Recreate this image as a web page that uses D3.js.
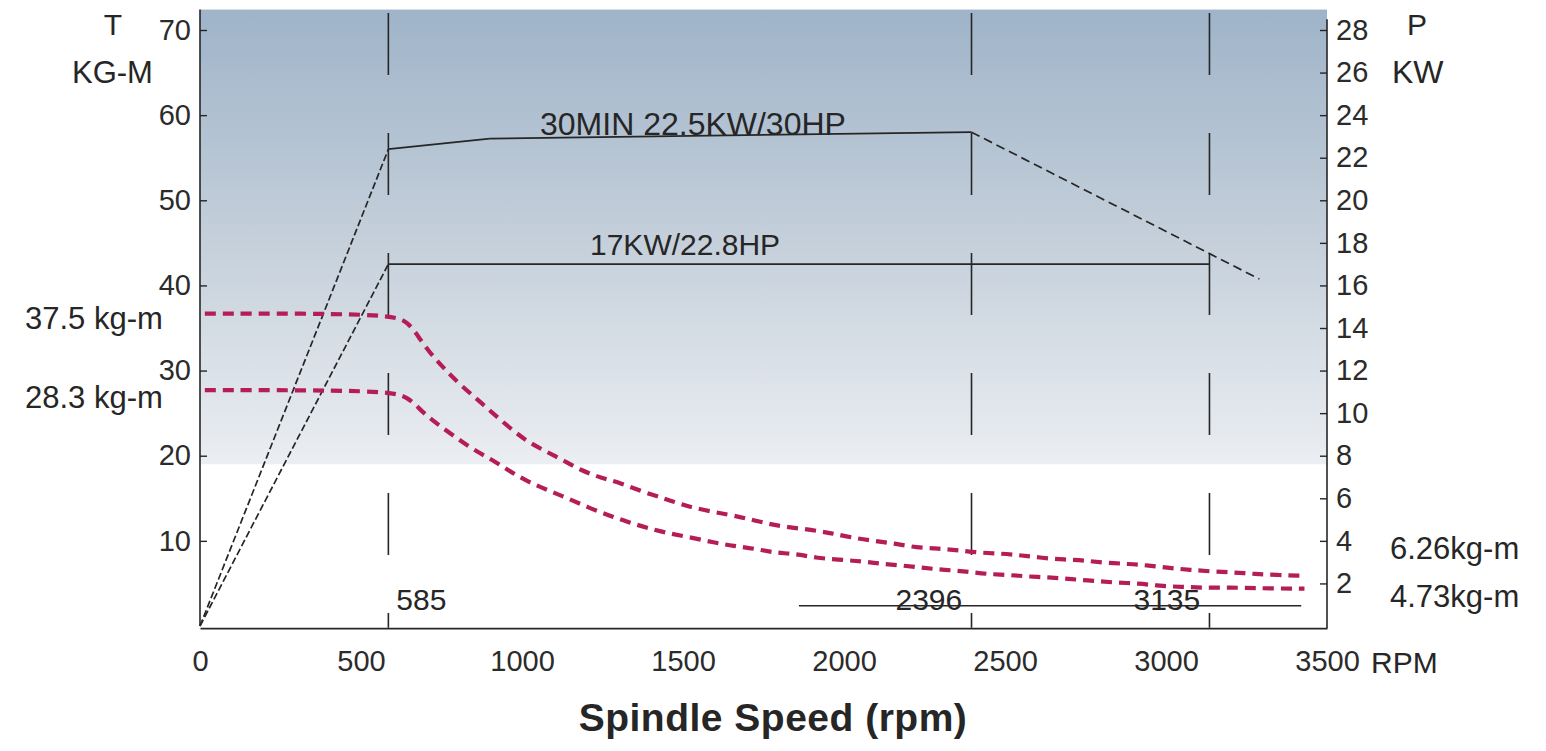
<!DOCTYPE html>
<html><head><meta charset="utf-8">
<script src="https://cdn.jsdelivr.net/npm/d3@7"></script>
<style>
html,body{margin:0;padding:0;background:#fff;}
svg{display:block;font-family:"Liberation Sans",Arial,sans-serif;}
</style></head>
<body>
<svg id="chart" width="1546" height="751"></svg>
<script>
// ---- data ----
const xTicks = [0,500,1000,1500,2000,2500,3000,3500];
const tTicks = [10,20,30,40,50,60,70];
const pTicks = [2,4,6,8,10,12,14,16,18,20,22,24,26,28];
const refRpm = [585,2396,3135];
const refLabels = ["585","2396","3135"];

// power curves (kW vs rpm)
const rpm30 = [0,585,900,2396,3290];
const kw30  = [0,22.4,22.9,23.2,16.3];
const rpm17 = [0,585,3135];
const kw17  = [0,17,17];

// torque curves (kg-m vs rpm)
const rpmTHigh = [15,585,647,684,725,762,809,862,909,958,1011,1064,1126,1182,1245,1307,1378,1441,1500,1565,1640,1702,1764,1826,1898,1960,2022,2091,2156,2225,2293,2355,2421,2489,2551,2614,2685,2747,2816,2884,2946,3012,3074,3142,3211,3276,3345,3420];
const tHigh    = [36.7,36.7,35.8,33.6,31.6,30.1,28.3,26.6,25.0,23.4,21.8,20.7,19.5,18.3,17.4,16.8,15.7,15.0,14.2,13.6,13.1,12.6,12.0,11.6,11.3,10.9,10.4,10.0,9.7,9.2,9.1,8.9,8.6,8.5,8.3,8.0,7.8,7.7,7.4,7.3,7.1,6.8,6.6,6.4,6.3,6.1,6.0,5.9];
const rpmTLow  = [15,582,647,691,741,793,849,909,965,1021,1083,1142,1207,1269,1329,1391,1453,1525,1596,1658,1721,1783,1845,1913,1982,2054,2116,2184,2250,2312,2380,2442,2511,2576,2645,2707,2775,2841,2915,2981,3049,3111,3180,3245,3320,3430];
const tLow     = [27.7,27.7,26.9,25.1,23.6,22.2,20.7,19.5,18.1,16.9,15.9,15.0,13.9,13.0,12.2,11.5,10.9,10.4,9.8,9.4,9.1,8.6,8.5,8.0,7.8,7.6,7.3,7.1,6.8,6.6,6.4,6.1,6.0,5.8,5.7,5.5,5.3,5.1,5.0,4.7,4.6,4.5,4.5,4.5,4.4,4.4];

// ---- chart ----
const svg = d3.select("#chart");
const x  = d3.scaleLinear().domain([0,3500]).range([200,1327]);
const yT = d3.scaleLinear().domain([0,70]).range([626,30]);
const yP = d3.scaleLinear().domain([0,28]).range([626,30]);
const ink = "#262626";

// gradient background
const defs = svg.append("defs");
const g = defs.append("linearGradient").attr("id","bg").attr("x1",0).attr("y1",0).attr("x2",0).attr("y2",1);
g.append("stop").attr("offset","0%").attr("stop-color","#9fb4c9");
g.append("stop").attr("offset","45%").attr("stop-color","#c0ccd8");
g.append("stop").attr("offset","100%").attr("stop-color","#ebeef2");
svg.append("rect").attr("x",x(0)).attr("y",yT(72.4)).attr("width",x(3500)-x(0))
  .attr("height",yT(19.0)-yT(72.4)).attr("fill","url(#bg)");

// vertical reference lines
svg.selectAll(".ref").data(refRpm).enter().append("line")
  .attr("x1",d=>x(d)).attr("x2",d=>x(d)).attr("y1",yT(72)).attr("y2",yT(-0.2))
  .attr("stroke",ink).attr("stroke-width",1.6).attr("stroke-dasharray","62 58");

// dimension line & labels
svg.append("line").attr("x1",x(1860)).attr("x2",x(3420)).attr("y1",yP(0.95)).attr("y2",yP(0.95))
  .attr("stroke",ink).attr("stroke-width",1.4);
svg.selectAll(".dim").data(refRpm).enter().append("text")
  .attr("x",(d,i)=>i===0? x(d)+8 : x(d)-76).attr("y",yP(0.75))
  .attr("font-size",30).attr("fill",ink).text((d,i)=>refLabels[i]);

// axes
const left = svg.append("g").attr("transform",`translate(${x(0)},0)`)
  .call(d3.axisLeft(yT).tickValues(tTicks).tickSize(-7).tickSizeOuter(0).tickPadding(9));
const right = svg.append("g").attr("transform",`translate(${x(3500)},0)`)
  .call(d3.axisRight(yP).tickValues(pTicks).tickSize(-7).tickSizeOuter(0).tickPadding(9));
const bottom = svg.append("g").attr("transform",`translate(0,${yP(-0.1)})`)
  .call(d3.axisBottom(x).tickValues(xTicks).tickFormat(d3.format("d")).tickSize(0).tickPadding(22));
[left,right,bottom].forEach(a=>{
  a.selectAll("path.domain").attr("stroke",ink).attr("stroke-width",1.6);
  a.selectAll(".tick line").attr("stroke",ink).attr("stroke-width",1.4);
  a.selectAll("text").attr("font-size",29).attr("fill","#2b2b2b")
    .attr("font-family","'Liberation Sans',Arial,sans-serif");
});
left.select("path.domain").attr("d",`M0,${yT(72.4)}V${yT(0)}`);
right.select("path.domain").attr("d",`M0,${yP(28.5)}V${yP(-0.1)}`);

// power lines, segment-wise styles
function drawSegments(rpms, kws, styles){
  for(let i=0;i<rpms.length-1;i++){
    svg.append("line")
      .attr("x1",x(rpms[i])).attr("y1",yP(kws[i]))
      .attr("x2",x(rpms[i+1])).attr("y2",yP(kws[i+1]))
      .attr("stroke",ink).attr("stroke-width",1.7)
      .attr("stroke-dasharray",styles[i]);
  }
}
drawSegments(rpm30,kw30,["7 3","none","none","9 5"]);
drawSegments(rpm17,kw17,["7 3","none"]);

// torque curves
const lineT = d3.line().x(d=>x(d[0])).y(d=>yT(d[1])).curve(d3.curveBasis);
[[rpmTHigh,tHigh],[rpmTLow,tLow]].forEach(([r,t])=>{
  svg.append("path").datum(r.map((v,i)=>[v,t[i]])).attr("d",lineT)
    .attr("fill","none").attr("stroke","#b51d56").attr("stroke-width",4.2)
    .attr("stroke-dasharray","11 7");
});

// texts
const txt = (s,xx,yy,size,anchor,extra)=>{
  const t = svg.append("text").attr("x",xx).attr("y",yy).attr("font-size",size)
    .attr("fill",ink).attr("text-anchor",anchor||"start").text(s);
  if(extra) extra(t);
  return t;
};
txt("T",113,35,30,"middle");
txt("KG-M",72,83,31);
txt("P",1417,35,30,"middle");
txt("KW",1392,83,32);
txt("30MIN 22.5KW/30HP",540,135,32);
txt("17KW/22.8HP",590,255,30);
txt("37.5 kg-m",25,329,31);
txt("28.3 kg-m",25,408,31);
txt("6.26kg-m",1390,559,31);
txt("4.73kg-m",1390,607,31);
txt("RPM",1371,673,30);
txt("Spindle Speed (rpm)",773,731,39,"middle",t=>t.attr("font-weight","bold").attr("letter-spacing",0.5));
</script>
</body></html>
